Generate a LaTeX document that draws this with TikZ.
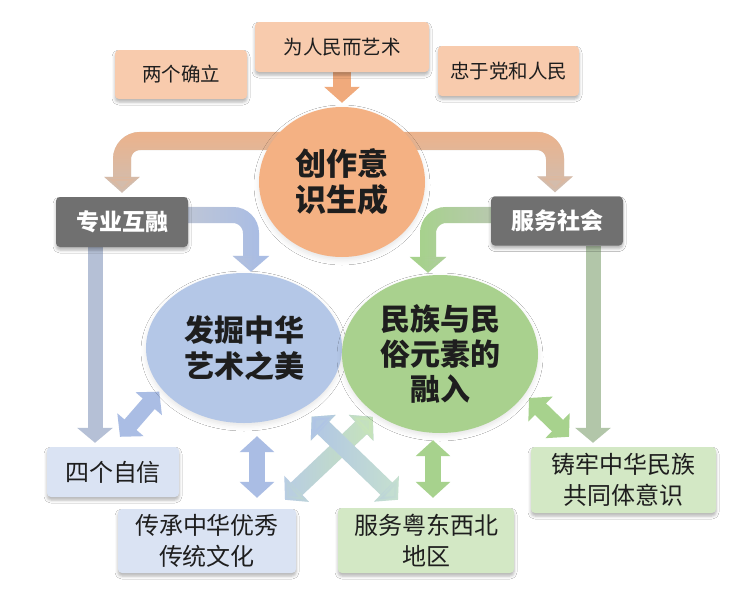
\documentclass[tikz,border=0pt]{standalone}
\usepackage{fontspec}
\setmainfont{Noto Sans CJK SC}
\usetikzlibrary{arrows.meta,shapes.geometric,shadows.blur,fadings}
\definecolor{peachbox}{HTML}{F8CBAD}
\definecolor{orangec}{HTML}{F4B183}
\definecolor{orangearr}{HTML}{F0AA7C}
\definecolor{tanarr}{HTML}{ECB38C}
\definecolor{greyarr}{HTML}{CBC0B8}
\definecolor{darkbox}{HTML}{707070}
\definecolor{blueell}{HTML}{B4C7E7}
\definecolor{bluebox}{HTML}{DAE3F3}
\definecolor{greenell}{HTML}{A9D18E}
\definecolor{greenbox}{HTML}{D3E8C5}
\definecolor{bluearr}{HTML}{AABDE4}
\definecolor{bluegrey}{HTML}{C0C7D6}
\definecolor{greenarr}{HTML}{A7D28D}
\definecolor{greengrey}{HTML}{BAC8B2}
\definecolor{vblue}{HTML}{B5C0D6}
\definecolor{vgreen}{HTML}{B2C6A9}
\definecolor{xblue}{HTML}{AFC4E6}
\definecolor{xmint}{HTML}{C8E3CE}
\definecolor{xgreen}{HTML}{C7E5B8}
\definecolor{xsky}{HTML}{B7CBE7}
\definecolor{txt}{HTML}{1E1E1E}
\tikzfading[name=fadetop,top color=transparent!0,bottom color=transparent!100]
\tikzfading[name=fadeleft,left color=transparent!0,right color=transparent!100]
\tikzfading[name=faderight,left color=transparent!100,right color=transparent!0]
\pgfdeclarelayer{bg}
\pgfsetlayers{bg,main}
\tikzset{
  shbox/.style={blur shadow={shadow xshift=0pt,shadow yshift=-3pt,shadow blur radius=3pt,shadow opacity=30}},
  topbox/.style={shbox,fill=peachbox,rounded corners=4pt,inner sep=0pt,text=txt,
    font=\fontsize{19.5}{23}\selectfont},
  greybox/.style={shbox,fill=darkbox,rounded corners=4pt,inner sep=0pt,text=white,
    font=\bfseries\fontsize{23}{27}\selectfont},
  ell/.style={ellipse,inner sep=0pt,align=center,text=txt,
    font=\bfseries\fontsize{30}{36}\selectfont,
    blur shadow={shadow xshift=0pt,shadow yshift=-3pt,shadow blur radius=5pt,shadow opacity=10}},
  botbox/.style={shbox,rounded corners=4pt,inner sep=0pt,align=center,text=txt,
    font=\fontsize{24}{31}\selectfont},
  bigarr/.style={line width=18pt,-{Triangle[width=35pt,length=16pt]}},
  midarr/.style={line width=16pt,-{Triangle[width=36pt,length=16pt]}},
  longarr/.style={line width=15pt,-{Triangle[width=35pt,length=15pt]}},
  dblarr/.style={line width=16pt,{Triangle[width=34pt,length=16pt]}-{Triangle[width=34pt,length=16pt]}},
  crossarr/.style={line width=17pt,{Triangle[width=35pt,length=16pt]}-{Triangle[width=35pt,length=16pt]}}
}
\begin{document}
\begin{tikzpicture}[x=1pt,y=-1pt]
\useasboundingbox (0,0) rectangle (748,600);
\path[fill=white,fill opacity=0.5] (0,0) rectangle (2,2);

% top boxes
\node[topbox,minimum width=132pt,minimum height=49pt] (tA) at (181,74.5) {两个确立};
\node[topbox,minimum width=174pt,minimum height=50pt] (tB) at (342,47) {为人民而艺术};
\node[topbox,minimum width=141pt,minimum height=50pt] (tC) at (508.5,71) {忠于党和人民};

% central circle
\node[ell,fill=orangec,minimum width=166pt,minimum height=150pt,font=\bfseries\fontsize{31}{36}\selectfont] (circ) at (342,182) {创作意\\识生成};

% grey boxes
\node[greybox,minimum width=132pt,minimum height=50pt] (gL) at (122,222) {专业互融};
\node[greybox,minimum width=132pt,minimum height=49pt] (gR) at (557,221) {服务社会};

% ellipses
\node[ell,fill=blueell,minimum width=196pt,minimum height=150pt] (bE) at (244,348) {发掘中华\\艺术之美};
\node[ell,fill=greenell,minimum width=196pt,minimum height=158pt,font=\bfseries\fontsize{30}{35}\selectfont] (gE) at (440,354) {民族与民\\俗元素的\\融入};

% bottom boxes
\node[botbox,fill=bluebox,minimum width=132pt,minimum height=50pt] (b1) at (113,472) {四个自信};
\node[botbox,fill=bluebox,minimum width=178pt,minimum height=64pt] (b2) at (207,541) {传承中华优秀\\传统文化};
\node[botbox,fill=greenbox,minimum width=176pt,minimum height=65pt] (b3) at (426,540.5) {服务粤东西北\\地区};
\node[botbox,fill=greenbox,minimum width=185pt,minimum height=66pt] (b4) at (623.5,480) {铸牢中华民族\\共同体意识};

\begin{pgfonlayer}{bg}
\fill[white] (0,0) rectangle (748,600);
% top arrow
\draw[bigarr,orangearr] (tB.south) -- ([yshift=4pt]circ.north);
% orange bent arrows
\draw[bigarr,greyarr,rounded corners=18pt] ([yshift=41pt]circ.center) -| ([yshift=4pt]gL.north);
\draw[bigarr,tanarr,rounded corners=18pt,path fading=fadetop] ([yshift=41pt]circ.center) -| ([yshift=4pt]gL.north);
\draw[bigarr,greyarr,rounded corners=18pt] ([yshift=41pt]circ.center) -| ([xshift=-2pt,yshift=4pt]gR.north);
\draw[bigarr,tanarr,rounded corners=18pt,path fading=fadetop] ([yshift=41pt]circ.center) -| ([xshift=-2pt,yshift=4pt]gR.north);
% blue bent
\draw[midarr,bluearr,rounded corners=18pt] ([yshift=7pt]gL.east) -| ([xshift=7pt,yshift=1pt]bE.north);
\draw[midarr,bluegrey,rounded corners=18pt,path fading=fadeleft] ([yshift=7pt]gL.east) -| ([xshift=7pt,yshift=1pt]bE.north);
% green bent
\draw[midarr,greenarr,rounded corners=18pt] ([yshift=6pt]gR.west) -| ([xshift=-12pt,yshift=2pt]gE.north);
\draw[midarr,greengrey,rounded corners=18pt,path fading=faderight] ([yshift=6pt]gR.west) -| ([xshift=-12pt,yshift=2pt]gE.north);
% long verticals
\draw[longarr,vblue] ([xshift=-27pt]gL.south) -- ([xshift=-18pt,yshift=4pt]b1.north);
\draw[longarr,vgreen] ([xshift=36pt]gR.south) -- ([xshift=-30.5pt,yshift=4pt]b4.north);
% double arrows
\draw[dblarr,bluearr] ([xshift=7pt,yshift=10pt]b1.north) -- ([shift={(-3pt,-2pt)}]bE.207);
\draw[dblarr,bluearr] ([xshift=13pt,yshift=-13pt]bE.south) -- ([xshift=50pt,yshift=11pt]b2.north);
\draw[dblarr,greenarr] ([xshift=-7pt,yshift=-7pt]gE.south) -- ([xshift=7pt,yshift=10pt]b3.north);
\draw[dblarr,greenarr] ([shift={(5pt,-3pt)}]gE.-26) -- ([xshift=-54.5pt,yshift=10pt]b4.north);
% crossing arrows
\draw[crossarr,xsky] ([shift={(-3pt,-3pt)}]gE.223) -- ([xshift=78pt,yshift=9pt]b2.north);
\draw[crossarr,xgreen,path fading=faderight] ([shift={(-3pt,-3pt)}]gE.223) -- ([xshift=78pt,yshift=9pt]b2.north);
\draw[crossarr,xmint] ([shift={(8pt,-9pt)}]bE.-45) -- ([xshift=-28pt,yshift=8pt]b3.north);
\draw[crossarr,xblue,path fading=fadeleft] ([shift={(8pt,-9pt)}]bE.-45) -- ([xshift=-28pt,yshift=8pt]b3.north);
\end{pgfonlayer}
\end{tikzpicture}
\end{document}
